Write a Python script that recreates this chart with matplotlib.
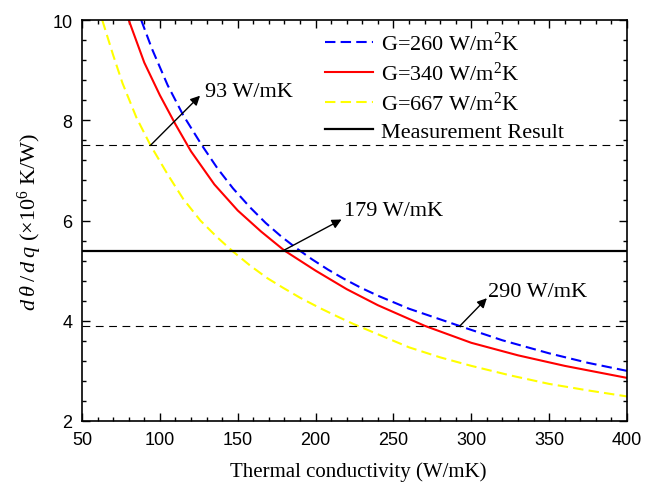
import matplotlib
matplotlib.use("Agg")
import matplotlib.pyplot as plt
from matplotlib.ticker import MultipleLocator, AutoMinorLocator

# values
k_260 = [88, 95, 105, 115, 127, 137, 147, 158, 168, 178, 188, 198, 208, 218, 229, 240, 260, 293, 320, 350, 375, 400]
y_260 = [10.0, 9.42, 8.7, 8.1, 7.5, 7.04, 6.64, 6.26, 5.95, 5.68, 5.44, 5.22, 5.02, 4.84, 4.66, 4.50, 4.24, 3.89, 3.61, 3.35, 3.16, 3.0]

k_340 = [80, 90, 100, 110, 120, 135, 150, 165, 180, 200, 220, 240, 270, 300, 330, 360, 400]
y_340 = [10.0, 9.15, 8.5, 7.92, 7.38, 6.72, 6.2, 5.78, 5.4, 5.0, 4.63, 4.31, 3.9, 3.56, 3.31, 3.10, 2.86]

k_667 = [63, 70, 76, 85, 94, 105, 115, 126, 137, 147, 158, 169, 179, 190, 203, 215, 224, 237, 260, 280, 300, 325, 350, 375, 400]
y_667 = [10.0, 9.3, 8.74, 8.05, 7.5, 6.92, 6.43, 6.0, 5.66, 5.38, 5.10, 4.85, 4.66, 4.46, 4.25, 4.07, 3.94, 3.77, 3.47, 3.27, 3.10, 2.91, 2.74, 2.61, 2.49]

measured = 5.4
bounds = [7.5, 3.9]
labels = ["G=260 W/m$^2$K", "G=340 W/m$^2$K", "G=667 W/m$^2$K", "Measurement Result"]

# annotations: start k, start y, arrow tip k, tip y, text, text k, text baseline y
notes = [(94, 7.5, 125.8, 8.49, "93 W/mK", 129, 8.49),
         (179.3, 5.4, 216.7, 6.02, "179 W/mK", 218, 6.1),
         (292.8, 3.9, 310, 4.45, "290 W/mK", 310.5, 4.5)]

serif = "Liberation Serif"
plt.rcParams["mathtext.fontset"] = "custom"
plt.rcParams["mathtext.rm"] = serif
plt.rcParams["mathtext.it"] = serif + ":italic"

fig = plt.figure(figsize=(6.58, 4.85), dpi=100)
ax = fig.add_axes([82/658, 1-422/485, 545/658, 401/485])

ax.plot(k_260, y_260, color="blue", lw=1.5, ls=(0, (5, 2.5)), label=labels[0])
ax.plot(k_340, y_340, color="red", lw=1.5, label=labels[1])
ax.plot(k_667, y_667, color="yellow", lw=1.5, ls=(0, (5, 2.5)), label=labels[2])
ax.axhline(measured, color="black", lw=1.6, label=labels[3])
for b in bounds:
    ax.axhline(b, color="black", lw=0.8, ls=(0, (7, 5)))

for px, py, hx, hy, t, tx, ty in notes:
    ax.annotate("", xy=(hx, hy), xytext=(px, py),
                arrowprops=dict(arrowstyle="-|>", color="black", lw=1, mutation_scale=14,
                                shrinkA=0, shrinkB=0))
    ax.text(tx, ty, t, fontsize=16, family=serif, va="baseline", ha="left")

ax.set_xlim(50, 400)
ax.set_ylim(2, 10)
ax.xaxis.set_major_locator(MultipleLocator(50))
ax.yaxis.set_major_locator(MultipleLocator(2))
ax.xaxis.set_minor_locator(AutoMinorLocator(5))
ax.yaxis.set_minor_locator(AutoMinorLocator(5))
ax.tick_params(which="both", direction="in", top=True, right=True, width=1)
ax.tick_params(which="major", length=6, labelsize=13, pad=7)
ax.tick_params(which="minor", length=3)
for lab in ax.get_xticklabels() + ax.get_yticklabels():
    lab.set_family("Liberation Sans")
for s in ax.spines.values():
    s.set_linewidth(1.2)

ax.set_xlabel("Thermal conductivity (W/mK)", fontsize=15, family=serif)
ax.xaxis.set_label_coords(0.506, -0.1)
ax.set_ylabel(r"$d\:\theta\:/\:d\:q$ ($\times$10$^6$ K/W)", fontsize=16, family=serif)
ax.yaxis.set_label_coords(-0.070, 0.5)

ax.legend(loc="upper left", bbox_to_anchor=(0.446, 0.97), frameon=False,
          prop={"family": serif, "size": 16}, handlelength=2.16, handletextpad=0.35,
          labelspacing=0.3, borderpad=0, borderaxespad=0)

fig.savefig("out.png", dpi=100)
